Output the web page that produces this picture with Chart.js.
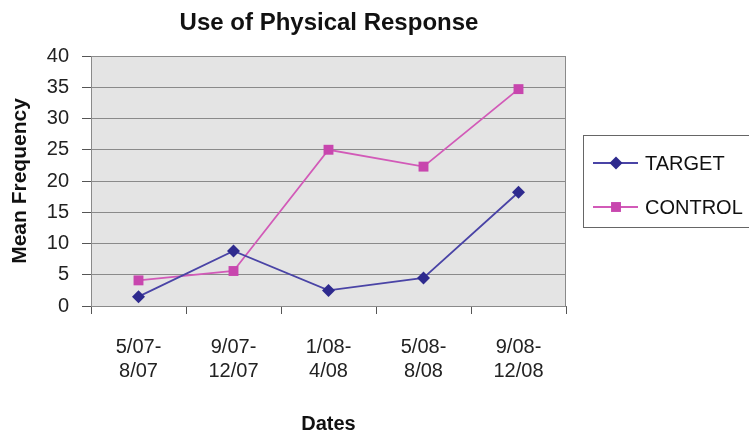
<!DOCTYPE html>
<html>
<head>
<meta charset="utf-8">
<script src="https://cdn.jsdelivr.net/npm/chart.js@4/dist/chart.umd.min.js"></script>
<style>
  html, body { margin: 0; padding: 0; background: #ffffff; }
  #wrap { width: 749px; height: 434px; position: relative; }
</style>
</head>
<body>
<div id="wrap"><canvas id="c" width="749" height="434"></canvas></div>
<script>
// Period labels (two lines each)
const categories = [
  ["5/07-", "8/07"],
  ["9/07-", "12/07"],
  ["1/08-", "4/08"],
  ["5/08-", "8/08"],
  ["9/08-", "12/08"]
];
const targetValues = [1.5, 8.8, 2.5, 4.5, 18.2];
const controlValues = [4.1, 5.6, 25.0, 22.3, 34.7];
const yTicks = [0, 5, 10, 15, 20, 25, 30, 35, 40];

const chartTitle = "Use of Physical Response";
const FONT = "'Liberation Sans', Arial, Helvetica, sans-serif";

// Grey plot background and frame around the chart area
const plotFrame = {
  id: 'plotFrame',
  beforeDraw(chart) {
    const { ctx, chartArea: a } = chart;
    ctx.save();
    ctx.fillStyle = '#e4e4e4';
    ctx.fillRect(a.left, a.top, a.right - a.left, a.bottom - a.top);
    ctx.restore();
  },
  beforeDatasetsDraw(chart) {
    const { ctx, chartArea: a } = chart;
    ctx.save();
    ctx.strokeStyle = '#8a8a8a';
    ctx.lineWidth = 1;
    ctx.strokeRect(Math.round(a.left) + 0.5, Math.round(a.top) + 0.5,
                   Math.round(a.right - a.left) - 1, Math.round(a.bottom - a.top));
    ctx.restore();
  }
};

// Chart heading
const heading = {
  id: 'heading',
  afterDraw(chart) {
    const { ctx } = chart;
    ctx.save();
    ctx.font = "bold 24px " + FONT;
    ctx.fillStyle = '#111111';
    ctx.textAlign = 'center';
    ctx.textBaseline = 'middle';
    ctx.fillText(chartTitle, 329, 23);
    ctx.restore();
  }
};

// Boxed legend on the right, built from the datasets
const boxLegend = {
  id: 'boxLegend',
  afterDraw(chart) {
    const { ctx } = chart;
    const left = 583, top = 135, height = 92;
    ctx.save();
    ctx.fillStyle = '#ffffff';
    ctx.fillRect(left, top, 200, height);
    ctx.strokeStyle = '#666666';
    ctx.lineWidth = 1;
    ctx.strokeRect(left + 0.5, top + 0.5, 200, height);
    const rows = [163, 207];
    chart.data.datasets.forEach((ds, i) => {
      const y = rows[i];
      ctx.strokeStyle = ds.borderColor;
      ctx.lineWidth = ds.borderWidth;
      ctx.beginPath();
      ctx.moveTo(593, y);
      ctx.lineTo(638, y);
      ctx.stroke();
      ctx.fillStyle = ds.pointBackgroundColor;
      Chart.helpers.drawPoint(ctx, {
        pointStyle: ds.pointStyle,
        radius: ds.pointRadius,
        borderWidth: 0,
        rotation: 0
      }, 616, y);
      ctx.fillStyle = '#111111';
      ctx.font = "20px " + FONT;
      ctx.textAlign = 'left';
      ctx.textBaseline = 'middle';
      ctx.fillText(ds.label, 645, y + 1);
    });
    ctx.restore();
  }
};

new Chart(document.getElementById('c'), {
  type: 'line',
  data: {
    labels: categories,
    datasets: [
      {
        label: 'TARGET',
        data: targetValues,
        borderColor: '#4a44a6',
        borderWidth: 1.8,
        pointStyle: 'rectRot',
        pointRadius: 6.5,
        pointHoverRadius: 6.5,
        pointBackgroundColor: '#2e2a8e',
        pointBorderColor: '#2e2a8e',
        pointBorderWidth: 0,
        tension: 0,
        fill: false
      },
      {
        label: 'CONTROL',
        data: controlValues,
        borderColor: '#d25ab8',
        borderWidth: 1.8,
        pointStyle: 'rect',
        pointRadius: 7,
        pointHoverRadius: 7,
        pointBackgroundColor: '#c846ae',
        pointBorderColor: '#c846ae',
        pointBorderWidth: 0,
        tension: 0,
        fill: false
      }
    ]
  },
  options: {
    responsive: false,
    animation: false,
    devicePixelRatio: 1,
    layout: { padding: { left: 0, top: 56, right: 183, bottom: 0 } },
    plugins: {
      legend: { display: false },
      title: { display: false },
      tooltip: { enabled: false }
    },
    scales: {
      x: {
        type: 'category',
        offset: true,
        afterFit(scale) { scale.height = 128; },
        grid: {
          offset: true,
          drawOnChartArea: false,
          drawTicks: true,
          tickLength: 8,
          tickColor: '#555555'
        },
        border: { display: true, color: '#666666', width: 1 },
        ticks: {
          color: '#222222',
          font: { family: FONT, size: 20, lineHeight: 1.17 },
          padding: 22,
          maxRotation: 0,
          autoSkip: false
        },
        title: {
          display: true,
          text: 'Dates',
          color: '#111111',
          font: { family: FONT, size: 20, weight: 'bold', lineHeight: 1 },
          padding: { top: 0, bottom: 0 }
        }
      },
      y: {
        min: 0,
        max: 40,
        afterFit(scale) { scale.width = 91; },
        afterBuildTicks(scale) { scale.ticks = yTicks.map(v => ({ value: v })); },
        grid: {
          color: '#8a8a8a',
          lineWidth: 1,
          drawTicks: true,
          tickLength: 9,
          tickColor: '#555555'
        },
        border: { display: true, color: '#666666', width: 1 },
        ticks: {
          color: '#222222',
          font: { family: FONT, size: 20 },
          padding: 13
        },
        title: {
          display: true,
          text: 'Mean Frequency',
          color: '#111111',
          font: { family: FONT, size: 21, weight: 'bold', lineHeight: 1.2 },
          padding: { top: 8, bottom: 0 }
        }
      }
    }
  },
  plugins: [plotFrame, heading, boxLegend]
});
</script>
</body>
</html>
